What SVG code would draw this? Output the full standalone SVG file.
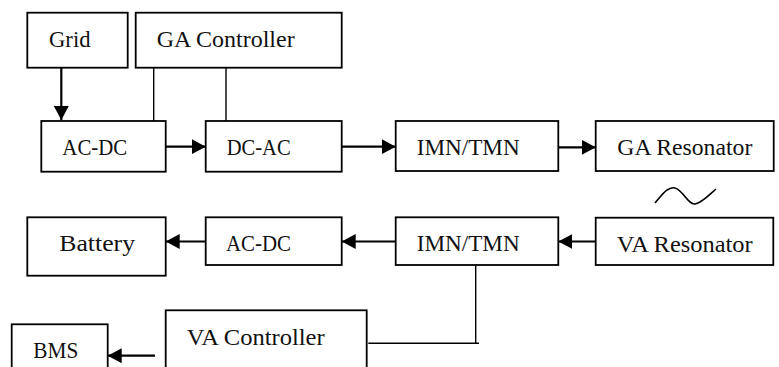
<svg xmlns="http://www.w3.org/2000/svg" width="779" height="367" viewBox="0 0 779 367">
  <style>
    .box { fill: #fff; stroke: #000; stroke-width: 1.8; }
    .lbl { font-family: "Liberation Serif", "DejaVu Serif", serif; font-size: 23.5px; fill: #111; }
    .flow { stroke: #000; stroke-width: 2.2; fill: none; }
    .tie { stroke: #000; stroke-width: 1.4; fill: none; }
    .wave { stroke: #000; stroke-width: 1.6; fill: none; }
  </style>
  <defs>
    <marker id="head" markerUnits="userSpaceOnUse" markerWidth="16" markerHeight="16" refX="14" refY="7.5" orient="auto">
      <path d="M0,0 L14,7.5 L0,15 Z" fill="#000"/>
    </marker>
  </defs>

  <!-- transmitter side -->
  <g id="grid">
    <rect class="box" x="27.3" y="12.7" width="100.4" height="55"/>
    <text class="lbl" x="49" y="46.7" textLength="41.5" lengthAdjust="spacingAndGlyphs">Grid</text>
  </g>
  <g id="ga-controller">
    <rect class="box" x="135.7" y="12.7" width="206" height="55"/>
    <text class="lbl" x="156.7" y="46.7" textLength="138" lengthAdjust="spacingAndGlyphs">GA Controller</text>
  </g>
  <g id="ac-dc-tx">
    <rect class="box" x="41.3" y="121" width="124.4" height="50.7"/>
    <text class="lbl" x="62.3" y="155" textLength="65" lengthAdjust="spacingAndGlyphs">AC-DC</text>
  </g>
  <g id="dc-ac">
    <rect class="box" x="205.7" y="121" width="136" height="50.7"/>
    <text class="lbl" x="226.7" y="155" textLength="64" lengthAdjust="spacingAndGlyphs">DC-AC</text>
  </g>
  <g id="imn-tmn-tx">
    <rect class="box" x="395.7" y="121" width="162.6" height="50"/>
    <text class="lbl" x="416.7" y="155" textLength="103" lengthAdjust="spacingAndGlyphs">IMN/TMN</text>
  </g>
  <g id="ga-resonator">
    <rect class="box" x="595.7" y="121" width="178" height="50"/>
    <text class="lbl" x="617.3" y="155" textLength="135" lengthAdjust="spacingAndGlyphs">GA Resonator</text>
  </g>

  <!-- receiver side -->
  <g id="battery">
    <rect class="box" x="27.3" y="217.3" width="138.4" height="58.4"/>
    <text class="lbl" x="59.3" y="250.5" textLength="75.7" lengthAdjust="spacingAndGlyphs">Battery</text>
  </g>
  <g id="ac-dc-rx">
    <rect class="box" x="205.7" y="217.3" width="136" height="47.7"/>
    <text class="lbl" x="226" y="250.5" textLength="65" lengthAdjust="spacingAndGlyphs">AC-DC</text>
  </g>
  <g id="imn-tmn-rx">
    <rect class="box" x="395.7" y="217.3" width="162.6" height="47.7"/>
    <text class="lbl" x="416.7" y="250.5" textLength="103" lengthAdjust="spacingAndGlyphs">IMN/TMN</text>
  </g>
  <g id="va-resonator">
    <rect class="box" x="595.7" y="217.7" width="177.6" height="47.3"/>
    <text class="lbl" x="616.7" y="252.3" textLength="136" lengthAdjust="spacingAndGlyphs">VA Resonator</text>
  </g>
  <g id="va-controller">
    <rect class="box" x="165.7" y="310.3" width="201" height="70"/>
    <text class="lbl" x="186.7" y="345" textLength="138" lengthAdjust="spacingAndGlyphs">VA Controller</text>
  </g>
  <g id="bms">
    <rect class="box" x="11.7" y="324.3" width="96" height="60"/>
    <text class="lbl" x="33.3" y="358.3" textLength="45" lengthAdjust="spacingAndGlyphs">BMS</text>
  </g>

  <!-- wireless coupling symbol -->
  <path id="coupling" class="wave" d="M655,203 C662,195 668,186 675,188 C683,190 688,205 695,204 C702,203 709,195 716,189"/>

  <g id="connectors">
    <line class="flow" x1="61.3" y1="67.7" x2="61.3" y2="120" marker-end="url(#head)"/>
    <line class="flow" x1="165.7" y1="146.7" x2="205.7" y2="146.7" marker-end="url(#head)"/>
    <line class="flow" x1="341.7" y1="146.7" x2="395.7" y2="146.7" marker-end="url(#head)"/>
    <line class="flow" x1="558.3" y1="147.3" x2="595.7" y2="147.3" marker-end="url(#head)"/>
    <line class="flow" x1="595.7" y1="241.5" x2="558.3" y2="241.5" marker-end="url(#head)"/>
    <line class="flow" x1="395.7" y1="241.5" x2="341.7" y2="241.5" marker-end="url(#head)"/>
    <line class="flow" x1="205.7" y1="241.5" x2="165.7" y2="241.5" marker-end="url(#head)"/>
    <line class="flow" x1="155" y1="355.7" x2="107.7" y2="355.7" marker-end="url(#head)"/>
    <line class="tie" x1="153.7" y1="67.7" x2="153.7" y2="121"/>
    <line class="tie" x1="226" y1="67.7" x2="226" y2="121"/>
    <polyline class="tie" points="475.7,265 475.7,343.3"/>
    <line class="tie" x1="368.3" y1="343.3" x2="479" y2="343.3"/>
  </g>
</svg>
